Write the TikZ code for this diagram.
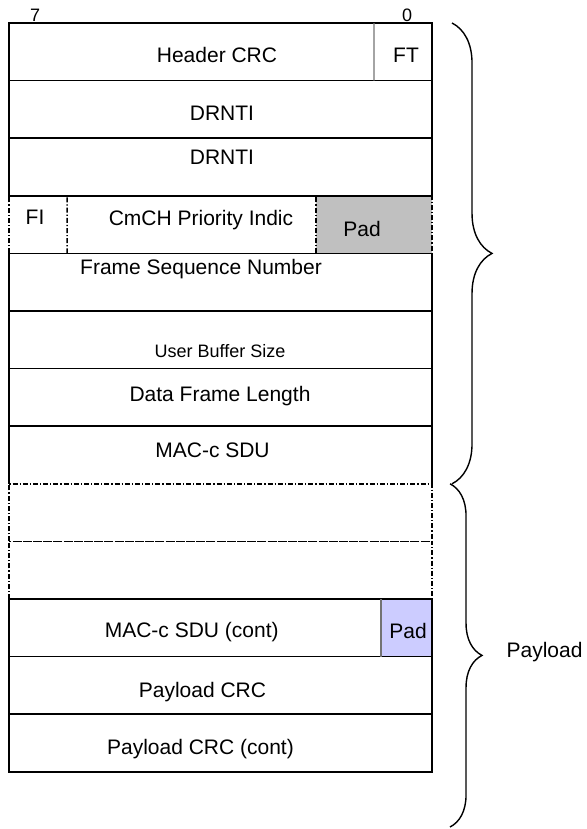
\documentclass[tikz,border=0pt]{standalone}
\usepackage{fontspec}
\setmainfont{Liberation Sans}
\usepackage{tikz}
\usetikzlibrary{calc,decorations.pathreplacing}

\definecolor{padgrey}{RGB}{192,192,192}
\definecolor{padblue}{RGB}{204,204,255}

\tikzset{
  field/.style={font=\fontsize{10.5}{12}\selectfont, inner sep=0pt, text height=7.5pt, text depth=0pt},
  smallfield/.style={font=\fontsize{9}{10}\selectfont, inner sep=0pt, text height=6.4pt, text depth=0pt},
  bitno/.style={font=\fontsize{9}{10}\selectfont, inner sep=0pt, anchor=base},
  optional/.style={dash pattern=on 2.5pt off 1pt on 0.6pt off 1pt},
  divider/.style={draw=black!55, line width=0.6pt},
  partbrace/.style={decorate, decoration={brace, amplitude=#1}, line width=0.7pt},
}

\begin{document}
\begin{tikzpicture}[x=211.5pt,y=28.8pt,line width=0.75pt]
  \useasboundingbox (-0.0213,0.3993) rectangle (1.3641,-13.993);

  %% Corners of the frame rows
  \foreach \x in {1,...,13}
  {
    \coordinate (BL\x) at (0,-\x);
    \coordinate (UR\x) at (1,-\x+1);
  }

  %% Padding fields (filled first)
  \fill[padgrey] ($(BL4)+(0.7258,0)$) rectangle (UR4);
  \fill[padblue] ($(BL11)+(0.8794,0)$) rectangle (UR11);

  %% Rows
  \foreach \x in {1,2,3,5,6,7,11,12,13}
    \draw (BL\x) rectangle (UR\x);
  \draw (BL8) -- (BL8|-UR8) -- (UR8) -- (UR8|-BL8);
  \foreach \x in {4,9,10}
    \draw[optional] (BL\x) rectangle (UR\x);

  %% Dividers inside the rows
  \draw[divider] ($(BL1)+(0.8629,0)$) -- ($(UR1)-(0.1371,0)$);
  \draw[optional] ($(BL4)+(0.1371,0)$) -- ($(UR4)-(0.8629,0)$);
  \draw[optional] ($(BL4)+(0.7258,0)$) -- ($(UR4)-(0.2742,0)$);
  \draw[divider] ($(BL11)+(0.8794,0)$) -- ($(UR11)-(0.1206,0)$);

  %% Bit numbers
  \node[bitno] (bit7) at (0.0615,0.02) {7};
  \node[bitno] (bit0) at (0.9409,0.02) {0};

  %% Field labels
  \node[field] (hdrcrc) at (0.4917,-0.5556) {Header CRC};
  \node[field] (ft)     at (0.9385,-0.5556) {FT};
  \node[field] (drnti1) at (0.5035,-1.5625) {DRNTI};
  \node[field] (drnti2) at (0.5035,-2.3177) {DRNTI};
  \node[field] (fi)     at (0.0615,-3.3680) {FI};
  \node[field] (cmch)   at (0.4539,-3.3767) {CmCH Priority Indic};
  \node[field] (pad1)   at (0.8345,-3.5764) {Pad};
  \node[field] (fsn)    at (0.4539,-4.2361) {Frame Sequence Number};
  \node[smallfield] (ubs) at (0.4988,-5.6944) {User Buffer Size};
  \node[field] (dfl)    at (0.4988,-6.4410) {Data Frame Length};
  \node[field] (sdu)    at (0.4811,-7.4045) {MAC-c SDU};
  \node[field] (sducont) at (0.4319,-10.538) {MAC-c SDU (cont)};
  \node[field] (pad2)   at (0.9433,-10.556) {Pad};
  \node[field] (plcrc)  at (0.4574,-11.571) {Payload CRC};
  \node[field] (plcrc2) at (0.4527,-12.561) {Payload CRC (cont)};

  %% Braces
  \coordinate (hdrtop) at (1.0473,0);
  \coordinate (hdrbot) at (1.0473,-8);
  \coordinate (pltop)  at (1.0426,-8);
  \coordinate (plbot)  at (1.0426,-13.958);
  \draw[partbrace=20pt] (hdrtop) -- (hdrbot);
  \draw[partbrace=16pt] (pltop) -- (plbot);
  \node[field] (payload) at (1.2660,-10.885) {Payload};

\end{tikzpicture}
\end{document}
